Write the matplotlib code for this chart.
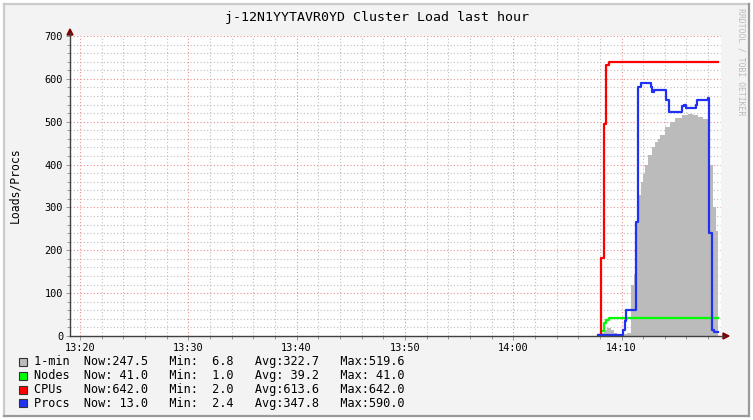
import matplotlib
matplotlib.use('Agg')
import matplotlib.pyplot as plt
from matplotlib.lines import Line2D
from matplotlib.patches import Polygon, Rectangle

W, H = 753, 420

# time in minutes after 13:20
load_t = [47.8, 48.1, 48.4, 48.7, 49.0, 49.3, 49.6, 49.9, 50.2, 50.5, 50.9, 51.2, 51.4,
          51.6, 51.8, 52.0, 52.2, 52.45, 52.8, 53.1, 53.4, 53.6, 54.0, 54.5, 54.9, 55.6,
          56.1, 56.6, 57.1, 57.5, 57.99, 58.45, 58.73, 58.91]
load_v = [0, 8, 15, 18, 15, 8, 5, 4, 5, 8, 120, 145, 280,
          330, 360, 378, 400, 422, 441, 453, 460, 470, 488, 499, 508, 516,
          518, 516, 511, 506, 400, 301, 245, 245]

node_t = [47.95, 48.15, 48.35, 48.55, 48.85, 58.91]
node_v = [1.0, 12, 30, 37, 41, 41]

cpu_t = [47.95, 48.1, 48.38, 48.6, 48.85, 58.91]
cpu_v = [2.0, 182, 495, 632, 640, 640]

proc_t = [47.8, 50.14, 50.3, 50.42, 51.3, 51.55, 51.8, 52.72, 52.85, 53.0, 54.1, 54.35,
          55.6, 55.8, 55.95, 56.85, 57.0, 57.95, 58.08, 58.36, 58.54, 58.91]
proc_v = [2.4, 15, 35, 60, 265, 580, 590, 582, 570, 575, 550, 523,
          537, 540, 532, 540, 550, 555, 240, 15, 10, 10]

tick_pos = [0, 10, 20, 30, 40, 50]
tick_labels = ['13:20', '13:30', '13:40', '13:50', '14:00', '14:10']

legend_names = ['1-min', 'Nodes', 'CPUs', 'Procs']
legend_colors = ['#BBBBBB', '#00FF00', '#FF0000', '#2030F4']
legend_now = ['247.5', ' 41.0', '642.0', ' 13.0']
legend_min = ['  6.8', '  1.0', '  2.0', '  2.4']
legend_avg = ['322.7', ' 39.2', '613.6', '347.8']
legend_max = ['519.6', ' 41.0', '642.0', '590.0']

mono = 'DejaVu Sans Mono'


def fx(x):
    return x / W


def fy(y):
    return 1 - y / H


fig = plt.figure(figsize=(W / 100, H / 100), dpi=100)
fig.patch.set_facecolor('white')

# frame
fig.patches.append(Rectangle((fx(4), fy(416)), fx(745), 412 / H, transform=fig.transFigure,
                             facecolor='#F3F3F3', edgecolor='none', zorder=-5))
for (x0, y0, x1, y1, c) in [(4, 4, 749, 4, '#CBCBCB'), (4, 4, 4, 416, '#CBCBCB'),
                            (4, 416, 749, 416, '#999999'), (749, 4, 749, 416, '#999999')]:
    fig.lines.append(Line2D([fx(x0), fx(x1)], [fy(y0), fy(y1)], transform=fig.transFigure,
                            color=c, lw=1.6))

ax = fig.add_axes([fx(70), fy(336), 651 / W, 300 / H])
ax.set_facecolor('white')
ax.set_xlim((70 - 80) / 10.83, (721 - 80) / 10.83)
ax.set_ylim(0, 700)

# grid
for v in range(20, 701, 20):
    major = v % 100 == 0
    ax.axhline(v, color='#E89090' if major else '#BEBEBE', lw=0.8,
               ls=(0, (1, 2)), zorder=0)
for m in range(0, 60, 2):
    major = m % 10 == 0
    ax.axvline(m, color='#E89090' if major else '#BEBEBE', lw=0.8,
               ls=(0, (1, 2)), zorder=0)

ax.fill_between(load_t, load_v, step='post', color=legend_colors[0], lw=0, zorder=1)
ax.step(node_t, node_v, where='post', color=legend_colors[1], lw=1.6, zorder=2)
ax.step(cpu_t, cpu_v, where='post', color=legend_colors[2], lw=1.6, zorder=3)
ax.step(proc_t, proc_v, where='post', color=legend_colors[3], lw=1.6, zorder=4)

for s in ['top', 'right', 'left', 'bottom']:
    ax.spines[s].set_visible(False)

ax.set_xticks(tick_pos)
ax.set_xticklabels(tick_labels, family=mono, fontsize=7.4)
ax.set_xticks(range(0, 60, 2), minor=True)
ax.set_yticks(range(0, 701, 100))
ax.set_yticklabels([str(v) for v in range(0, 701, 100)], family=mono, fontsize=7.4)
ax.set_yticks(range(0, 701, 20), minor=True)
ax.tick_params(axis='both', which='major', length=3, width=0.6, color='#888888', pad=2)
ax.tick_params(axis='both', which='minor', length=2, width=0.6, color='#888888')

# axis lines + arrows
fig.lines.append(Line2D([fx(70), fx(70)], [fy(336), fy(33)], transform=fig.transFigure,
                        color='#404040', lw=1))
fig.lines.append(Line2D([fx(70), fx(724)], [fy(336), fy(336)], transform=fig.transFigure,
                        color='#404040', lw=1))
fig.patches.append(Polygon([(fx(67), fy(35)), (fx(73), fy(35)), (fx(70), fy(29))],
                           closed=True, transform=fig.transFigure, color='#7F0000'))
fig.patches.append(Polygon([(fx(723), fy(333)), (fx(723), fy(339)), (fx(729), fy(336))],
                           closed=True, transform=fig.transFigure, color='#7F0000'))

fig.text(fx(377), fy(17), 'j-12N1YYTAVR0YD Cluster Load last hour', family=mono,
         fontsize=9.5, ha='center', va='center')
fig.text(fx(15), fy(185), 'Loads/Procs', family=mono, fontsize=8.3, rotation=90,
         ha='center', va='center')
fig.text(fx(741), fy(8), 'RRDTOOL / TOBI OETIKER', family=mono, fontsize=5.9,
         rotation=270, ha='center', va='top', color='#BBBBBB')

for i, name in enumerate(legend_names):
    yc = 362 + i * 13.8
    fig.patches.append(Rectangle((fx(19), fy(yc + 4)), 8 / W, 8 / H, transform=fig.transFigure,
                                 facecolor=legend_colors[i], edgecolor='#333333', lw=0.8))
    line = '%-5s  Now:%s   Min:%s   Avg:%s   Max:%s' % (
        name, legend_now[i], legend_min[i], legend_avg[i], legend_max[i])
    fig.text(fx(34), fy(yc), line, family=mono, fontsize=8.6, ha='left', va='center')

fig.savefig('out.png', dpi=100)
